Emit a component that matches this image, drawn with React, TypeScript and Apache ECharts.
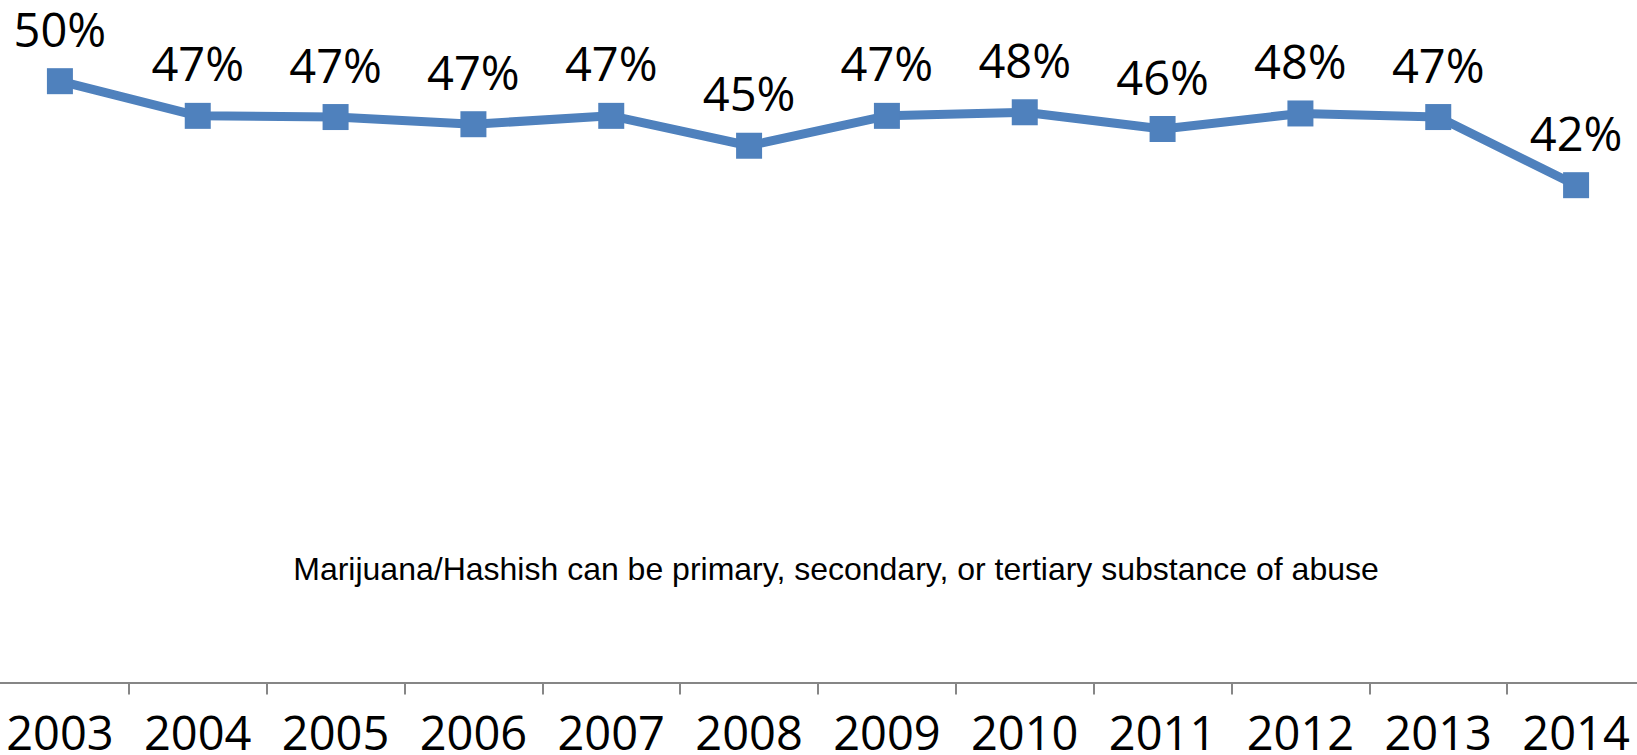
import React, { useEffect, useRef } from "react";
import * as echarts from "echarts";

const years = ["2003", "2004", "2005", "2006", "2007", "2008", "2009", "2010", "2011", "2012", "2013", "2014"];
const shares = [50.3, 47.4, 47.3, 46.7, 47.4, 44.9, 47.4, 47.7, 46.3, 47.6, 47.3, 41.6];
const note = "Marijuana/Hashish can be primary, secondary, or tertiary substance of abuse";

export default function App() {
  const ref = useRef<HTMLDivElement>(null);
  useEffect(() => {
    if (!ref.current) return;
    const chart = echarts.init(ref.current, null, { renderer: "svg" });
    chart.setOption({
      animation: false,
      backgroundColor: "#ffffff",
      grid: { left: 0, right: 0, top: 25, bottom: 71, containLabel: false },
      xAxis: {
        type: "category",
        data: years,
        boundaryGap: true,
        axisLine: { lineStyle: { color: "#868686", width: 2 } },
        axisTick: { show: true, length: 12, lineStyle: { color: "#868686", width: 2 } },
        axisLabel: {
          color: "#000000",
          fontSize: 47,
          lineHeight: 34,
          fontFamily: "Open Sans",
          margin: 32,
          interval: 0,
        },
      },
      yAxis: {
        type: "value",
        min: 0,
        max: 55,
        show: false,
        splitLine: { show: false },
      },
      graphic: [
        {
          type: "text",
          x: 845,
          y: 569,
          style: {
            text: note,
            font: '32px "Liberation Sans", Arial, sans-serif',
            fill: "#000000",
            textAlign: "center",
            textVerticalAlign: "middle",
          },
        },
      ],
      series: [
        {
          type: "line",
          data: shares,
          symbol: "rect",
          symbolSize: 26,
          itemStyle: { color: "#4F81BD" },
          lineStyle: { color: "#4F81BD", width: 9 },
          label: {
            show: true,
            position: "top",
            distance: 16,
            color: "#000000",
            fontSize: 47,
            lineHeight: 47,
            fontFamily: "Open Sans",
            formatter: (p: any) => Math.round(p.value) + "%",
          },
        },
      ],
    });
    return () => chart.dispose();
  }, []);
  return (
    <div style={{ position: "fixed", left: 0, top: 0, width: 1637, height: 755, overflow: "hidden", background: "#fff" }}>
      <div ref={ref} style={{ position: "absolute", left: -9, top: 0, width: 1654, height: 755 }} />
    </div>
  );
}
